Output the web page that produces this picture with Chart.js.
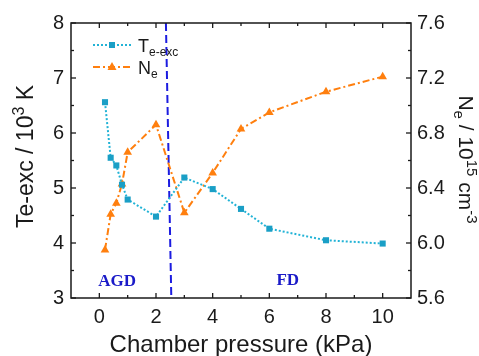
<!DOCTYPE html>
<html><head><meta charset="utf-8">
<script src="https://cdn.jsdelivr.net/npm/chart.js@4/dist/chart.umd.min.js"></script>
<style>html,body{margin:0;padding:0;background:#fff}canvas{display:block}</style>
</head><body>
<canvas id="c" width="479" height="356"></canvas>
<script>
// ---- data ----
const pressure   = [0.2, 0.4, 0.6, 0.8, 1, 2, 3, 4, 5, 6, 8, 10];          // kPa
const teExc      = [6.56, 5.55, 5.41, 5.06, 4.79, 4.48, 5.19, 4.98, 4.62, 4.26, 4.05, 3.99]; // 10^3 K
const neDensity  = [5.95, 6.21, 6.29, 6.43, 6.66, 6.86, 6.22, 6.51, 6.83, 6.95, 7.10, 7.21]; // 10^15 cm^-3
const boundaryX  = [2.35, 2.54];
const boundaryY  = [8, 3];
const regionNames = ['AGD', 'FD'];
const regionX     = [0.63, 6.65];
const regionY     = [3.30, 3.32];
const leftTicks   = [3, 4, 5, 6, 7, 8];
const rightTicks  = [5.6, 6.0, 6.4, 6.8, 7.2, 7.6];
const xTicks      = [0, 2, 4, 6, 8, 10];

const TE_LINE = '#22b3d6', TE_PT = '#1a9fc6', NE_COL = '#ff7f0e', VLINE = '#1c1ce0', REG_COL = '#1a1ac8';
const AX = '#1a1a1a';
const TICK_FONT = {family: '"Liberation Sans", Arial, sans-serif', size: 20};

function drawRich(ctx, parts, align) {
  let w = 0;
  parts.forEach(p => { ctx.font = p.size + 'px "Liberation Sans", Arial, sans-serif'; p.w = ctx.measureText(p.t).width; w += p.w; });
  let x = align === 'center' ? -w / 2 : 0;
  parts.forEach(p => { ctx.font = p.size + 'px "Liberation Sans", Arial, sans-serif'; ctx.fillText(p.t, x, p.dy || 0); x += p.w; });
}

const decor = {
  id: 'decor',
  afterDatasetsDraw(chart) {
    const ctx = chart.ctx, a = chart.chartArea;
    const sx = chart.scales.x, yl = chart.scales.y, yr = chart.scales.y1;
    ctx.save();
    ctx.strokeStyle = AX; ctx.lineWidth = 1.5;
    ctx.strokeRect(a.left, a.top, a.right - a.left, a.bottom - a.top);
    ctx.lineWidth = 1.3;
    const seg = (x1, y1, x2, y2) => { ctx.beginPath(); ctx.moveTo(x1, y1); ctx.lineTo(x2, y2); ctx.stroke(); };
    for (let v = 0; v <= 10; v++) {
      const px = sx.getPixelForValue(v), L = v % 2 === 0 ? 5 : 3;
      seg(px, a.bottom, px, a.bottom - L); seg(px, a.top, px, a.top + L);
    }
    for (let v = 3; v <= 8.001; v += 0.5) {
      const py = yl.getPixelForValue(v), L = Math.abs(v - Math.round(v)) < 1e-6 ? 5 : 3;
      seg(a.left, py, a.left + L, py);
    }
    for (let k = 0; k <= 10; k++) {
      const v = 5.6 + k * 0.2, py = yr.getPixelForValue(v), L = k % 2 === 0 ? 5 : 3;
      seg(a.right, py, a.right - L, py);
    }
    // region labels
    ctx.fillStyle = REG_COL;
    ctx.font = 'bold 17px "Liberation Serif", "Times New Roman", serif';
    ctx.textAlign = 'center'; ctx.textBaseline = 'middle';
    regionNames.forEach((n, i) => ctx.fillText(n, sx.getPixelForValue(regionX[i]), yl.getPixelForValue(regionY[i])));
    ctx.restore();
  },
  afterDraw(chart) {
    const ctx = chart.ctx, a = chart.chartArea;
    ctx.save();
    ctx.fillStyle = AX; ctx.textBaseline = 'alphabetic'; ctx.textAlign = 'left';
    // x title
    ctx.save(); ctx.translate((a.left + a.right) / 2, 352);
    drawRich(ctx, [{t: 'Chamber pressure (kPa)', size: 24}], 'center'); ctx.restore();
    // left title
    ctx.save(); ctx.translate(33, (a.top + a.bottom) / 2 - 4); ctx.rotate(-Math.PI / 2);
    drawRich(ctx, [{t: 'Te-exc / 10', size: 23}, {t: '3', size: 16, dy: -9}, {t: ' K', size: 23}], 'center'); ctx.restore();
    // right title
    ctx.save(); ctx.translate(459, (a.top + a.bottom) / 2 - 1); ctx.rotate(Math.PI / 2);
    drawRich(ctx, [{t: 'N', size: 21}, {t: 'e', size: 15, dy: 5}, {t: ' / 10', size: 21}, {t: '15', size: 15, dy: -8}, {t: ' cm', size: 21}, {t: '-3', size: 15, dy: -8}], 'center'); ctx.restore();
    // legend
    const ds = chart.data.datasets;
    const rows = [{d: ds[0], y: 45, parts: [{t: 'T', size: 18}, {t: 'e-exc', size: 12, dy: 4}]},
                  {d: ds[1], y: 67, parts: [{t: 'N', size: 18}, {t: 'e', size: 12, dy: 4}]}];
    rows.forEach(r => {
      ctx.save();
      ctx.strokeStyle = r.d.borderColor; ctx.lineWidth = r.d.borderWidth; ctx.setLineDash(r.d.borderDash);
      ctx.beginPath(); ctx.moveTo(93, r.y); ctx.lineTo(131, r.y); ctx.stroke();
      ctx.setLineDash([]);
      ctx.fillStyle = r.d.pointBackgroundColor;
      if (r.d.pointStyle === 'rect') { ctx.fillRect(109, r.y - 3, 6, 6); }
      else { ctx.beginPath(); ctx.moveTo(112, r.y - 5); ctx.lineTo(116.5, r.y + 3); ctx.lineTo(107.5, r.y + 3); ctx.closePath(); ctx.fill(); }
      ctx.fillStyle = AX; ctx.translate(138, r.y + 7);
      drawRich(ctx, r.parts, 'left');
      ctx.restore();
    });
    ctx.restore();
  }
};

new Chart(document.getElementById('c'), {
  type: 'line',
  data: {
    datasets: [
      {label: 'Te-exc', data: pressure.map((p, i) => ({x: p, y: teExc[i]})), yAxisID: 'y',
       borderColor: TE_LINE, borderWidth: 2, borderDash: [2, 2], pointStyle: 'rect', pointRadius: 4.3,
       pointBackgroundColor: TE_PT, pointBorderColor: TE_PT, pointBorderWidth: 0, tension: 0},
      {label: 'Ne', data: pressure.map((p, i) => ({x: p, y: neDensity[i]})), yAxisID: 'y1',
       borderColor: NE_COL, borderWidth: 2, borderDash: [7, 3, 2, 3], pointStyle: 'triangle', pointRadius: 5,
       pointBackgroundColor: NE_COL, pointBorderColor: NE_COL, pointBorderWidth: 0, tension: 0},
      {label: 'boundary', data: boundaryX.map((x, i) => ({x: x, y: boundaryY[i]})), yAxisID: 'y',
       borderColor: VLINE, borderWidth: 2, borderDash: [8, 4], pointRadius: 0, tension: 0}
    ]
  },
  options: {
    responsive: false, animation: false, devicePixelRatio: 1,
    layout: {padding: {top: 23, left: 0, right: 0, bottom: 0}},
    plugins: {legend: {display: false}, tooltip: {enabled: false}},
    scales: {
      x: {type: 'linear', min: -1, max: 11,
          grid: {display: false, drawTicks: false}, border: {display: false},
          afterBuildTicks(s) { s.ticks = xTicks.map(v => ({value: v})); },
          ticks: {autoSkip: false, maxRotation: 0, padding: 7, font: TICK_FONT, color: AX},
          afterFit(s) { s.height = 58; }},
      y: {type: 'linear', position: 'left', min: 3, max: 8,
          grid: {display: false, drawTicks: false}, border: {display: false},
          afterBuildTicks(s) { s.ticks = leftTicks.map(v => ({value: v})); },
          ticks: {padding: 7, font: TICK_FONT, color: AX},
          afterFit(s) { s.width = 71; }},
      y1: {type: 'linear', position: 'right', min: 5.6, max: 7.6,
          grid: {display: false, drawTicks: false}, border: {display: false},
          afterBuildTicks(s) { s.ticks = rightTicks.map(v => ({value: v})); },
          ticks: {padding: 6, font: TICK_FONT, color: AX, callback: v => Number(v).toFixed(1)},
          afterFit(s) { s.width = 68; }}
    }
  },
  plugins: [decor]
});
</script>
</body></html>
